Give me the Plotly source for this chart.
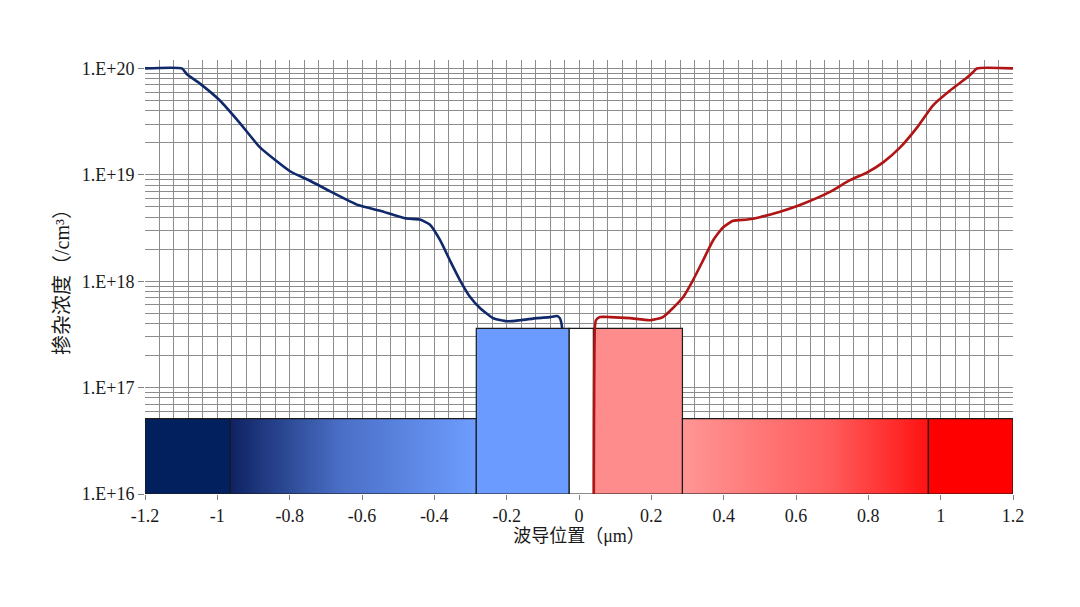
import numpy as np
import plotly.graph_objects as go

# ---------------- data ----------------
# N-side (blue) doping profile
blue_x = [-1.2, -1.098, -1.084, -1.048, -0.993, -0.937, -0.882, -0.799, -0.744, -0.688,
          -0.611, -0.550, -0.481, -0.440, -0.412, -0.384, -0.357, -0.329, -0.301, -0.274,
          -0.238, -0.199, -0.163, -0.116, -0.080, -0.061, -0.053, -0.047, -0.041]
blue_y = [1e20, 1e20, 8.8e19, 7.2e19, 5.0e19, 3.05e19, 1.81e19, 1.08e19, 8.8e18, 7.0e18,
          5.2e18, 4.6e18, 3.9e18, 3.8e18, 3.4e18, 2.43e18, 1.57e18, 1.02e18, 7.1e17, 5.6e17,
          4.5e17, 4.2e17, 4.3e17, 4.5e17, 4.6e17, 4.7e17, 4.5e17, 3.7e17, 1e16]

# P-side (red) doping profile
red_x = [0.041, 0.044, 0.047, 0.058, 0.086, 0.141, 0.196, 0.232, 0.260, 0.288,
         0.315, 0.343, 0.371, 0.398, 0.426, 0.465, 0.500, 0.556, 0.611, 0.694,
         0.749, 0.796, 0.841, 0.888, 0.935, 0.979, 1.026, 1.073, 1.089, 1.100, 1.2]
red_y = [1e16, 3.7e17, 4.3e17, 4.6e17, 4.6e17, 4.5e17, 4.3e17, 4.6e17, 5.6e17, 7.1e17,
         1.02e18, 1.57e18, 2.43e18, 3.2e18, 3.7e18, 3.8e18, 4.0e18, 4.5e18, 5.2e18, 6.9e18,
         8.9e18, 1.05e19, 1.31e19, 1.81e19, 2.79e19, 4.5e19, 6.2e19, 8.2e19, 9.2e19, 1e20, 1e20]

# Doping regions (blocks)
region_names = ["N++", "N+ grad", "N", "i", "P", "P+ grad", "P++"]
region_left = [-1.2, -0.964, -0.284, -0.027, 0.040, 0.286, 0.966]
region_right = [-0.964, -0.284, -0.027, 0.040, 0.286, 0.966, 1.2]
region_top = [5.1e16, 5.1e16, 3.6e17, 3.6e17, 3.6e17, 5.1e16, 5.1e16]
region_base = 1e16

x_tick_vals = [-1.2, -1.0, -0.8, -0.6, -0.4, -0.2, 0.0, 0.2, 0.4, 0.6, 0.8, 1.0, 1.2]
x_tick_text = ["-1.2", "-1", "-0.8", "-0.6", "-0.4", "-0.2", "0", "0.2", "0.4", "0.6", "0.8", "1", "1.2"]
y_decades = [16, 17, 18, 19, 20]
y_tick_text = ["1.E+16", "1.E+17", "1.E+18", "1.E+19", "1.E+20"]

# ---------------- styles ----------------
region_fill = [
    dict(color="#03205E"),
    dict(gradient=[[0, "#0E2262"], [0.45, "#4A6FC6"], [1, "#6E9DFF"]]),
    dict(color="#6C9BFF"),
    dict(color="#FFFFFF"),
    dict(color="#FF8C8C"),
    dict(gradient=[[0, "#FF9696"], [0.6, "#FF5C5C"], [1, "#FF1212"]]),
    dict(color="#FF0000"),
]
FONT = "Liberation Serif, Noto Sans CJK SC, serif"
GRID = "#8C8C8C"

fig = go.Figure()

# blue curve (drawn under the blocks)
fig.add_trace(go.Scatter(x=blue_x, y=blue_y, mode="lines",
                         line=dict(color="#10296B", width=2.6, shape="spline", smoothing=0.5),
                         hoverinfo="skip", showlegend=False))

# blocks
for name, x0, x1, top, st in zip(region_names, region_left, region_right, region_top, region_fill):
    kw = dict(x=[x0, x1, x1, x0, x0], y=[region_base, region_base, top, top, region_base],
              mode="lines", fill="toself", line=dict(color="#1A1A1A", width=1.2),
              name=name, hoverinfo="skip", showlegend=False)
    if "gradient" in st:
        kw["fillgradient"] = dict(type="horizontal", colorscale=st["gradient"])
    else:
        kw["fillcolor"] = st["color"]
    fig.add_trace(go.Scatter(**kw))

# red curve (on top)
fig.add_trace(go.Scatter(x=red_x, y=red_y, mode="lines",
                         line=dict(color="#B01414", width=2.6, shape="spline", smoothing=0.5),
                         hoverinfo="skip", showlegend=False))

major_y = [10.0 ** d for d in y_decades]
minor_y = [float(m) * 10.0 ** d for d in y_decades[:-1] for m in range(2, 10)]

fig.update_layout(
    width=1072, height=599,
    margin=dict(l=137, r=67, t=52, b=113, autoexpand=False),
    paper_bgcolor="white", plot_bgcolor="white",
    font=dict(family=FONT, size=18, color="#1A1A1A"),
    xaxis=dict(
        range=[-1.2, 1.2], tickmode="array", tickvals=x_tick_vals, ticktext=x_tick_text,
        showgrid=True, gridcolor=GRID, gridwidth=1, zeroline=False, showline=False,
        ticks="outside", ticklen=5, tickcolor="#808080", automargin=False,
        minor=dict(tickmode="linear", tick0=-1.2, dtick=0.04, showgrid=True,
                   gridcolor=GRID, gridwidth=1, ticks=""),
        tickfont=dict(family=FONT, size=18),
        title=dict(text="波导位置（μm）", font=dict(family=FONT, size=18), standoff=4),
    ),
    yaxis=dict(
        type="log", range=[16, float(np.log10(1.2e20))],
        tickmode="array", tickvals=major_y, ticktext=y_tick_text,
        showgrid=True, gridcolor=GRID, gridwidth=1, zeroline=False, showline=False,
        ticks="outside", ticklen=6, tickcolor="#808080", automargin=False,
        minor=dict(tickmode="array", tickvals=minor_y, showgrid=True,
                   gridcolor=GRID, gridwidth=1, ticks=""),
        tickfont=dict(family=FONT, size=18),
        title=dict(text="掺杂浓度（/cm³）", font=dict(family=FONT, size=20), standoff=6),
    ),
)

fig.write_html("out.html")
